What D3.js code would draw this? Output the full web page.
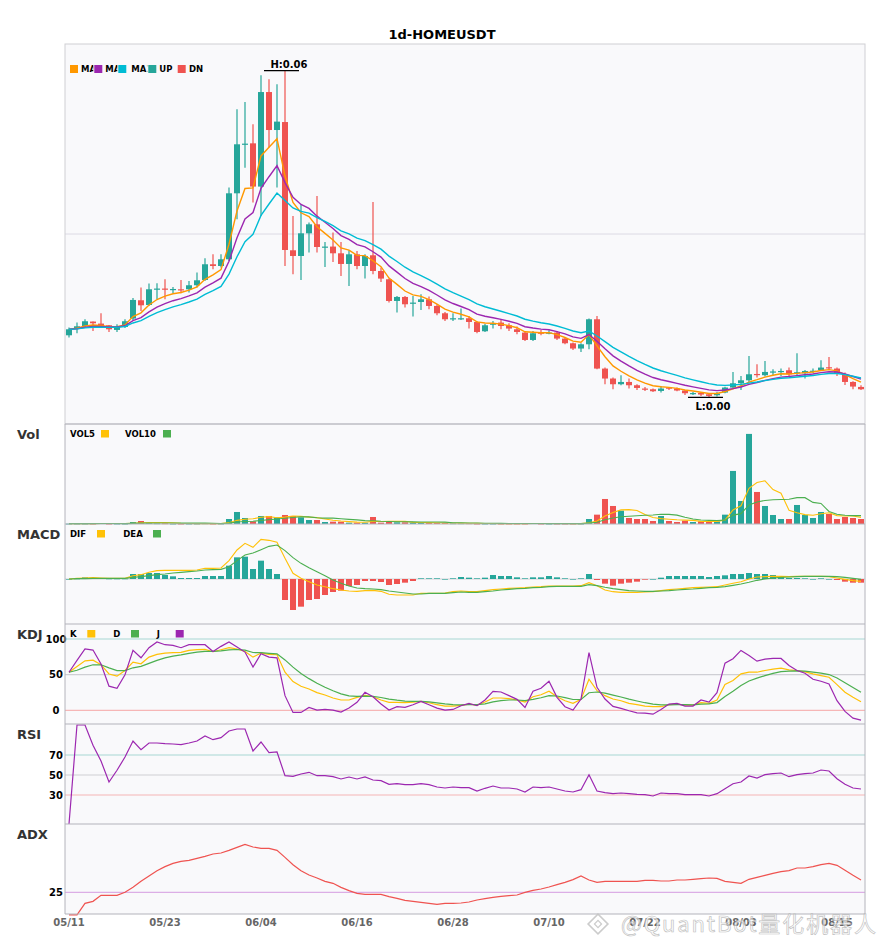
<!DOCTYPE html>
<html>
<head>
<meta charset="utf-8">
<script src="https://cdn.jsdelivr.net/npm/d3@7"></script>
<style>
  body { margin: 0; background: #fff; }
  svg { display: block; font-family: "DejaVu Sans", sans-serif; }
</style>
</head>
<body>
<svg id="chart"></svg>
<script>
// Daily candles, prices in milli-USDT (x 0.001)
const priceUnit = 0.001;
const firstDay = new Date(2025, 4, 11);
const tickLabels = ["05/11", "05/23", "06/04", "06/16", "06/28", "07/10", "07/22", "08/03", "08/15"];

const openP = [
  12.33, 13.45, 13.88, 14.62, 14.28, 14.0, 13.22, 13.72, 15.12, 18.17,
  17.38, 20.05, 20.12, 19.95, 20.0, 20.0, 20.67, 21.55, 24.17, 23.88,
  25.0, 36.0, 44.22, 44.33, 37.12, 52.88, 46.55, 47.88, 26.5, 25.55,
  29.33, 30.83, 27.05, 27.12, 26.0, 24.22, 25.83, 23.88, 25.67, 23.05,
  21.67, 18.05, 18.72, 17.67, 17.88, 18.33, 17.22, 16.0, 15.12, 15.12,
  15.17, 14.55, 13.0, 14.22, 14.45, 14.0, 13.33, 12.78, 11.55, 12.78,
  12.72, 12.78, 11.78, 11.0, 10.12, 10.83, 15.0, 6.78, 5.12, 4.17,
  4.55, 4.0, 3.45, 3.33, 3.05, 3.62, 3.45, 3.12, 2.63, 2.72,
  2.5, 2.33, 2.78, 3.62, 4.33, 4.83, 5.88, 5.67, 6.25, 6.33,
  6.5, 6.0, 6.0, 6.37, 6.5, 7.0, 6.78, 5.83, 4.55, 3.72
];
const highP = [
  13.62, 14.45, 15.0, 14.62, 16.0, 14.05, 14.17, 15.0, 18.55, 20.28,
  20.95, 21.0, 21.67, 20.38, 21.55, 21.38, 22.78, 25.17, 25.83, 25.83,
  36.95, 50.0, 51.22, 47.5, 55.67, 55.0, 54.17, 56.38, 32.22, 34.17,
  31.12, 35.55, 27.88, 29.45, 27.88, 26.5, 26.38, 25.83, 34.55, 23.62,
  21.78, 18.88, 18.88, 18.88, 19.17, 18.78, 17.5, 16.22, 16.0, 16.78,
  15.55, 14.72, 14.22, 14.72, 15.0, 14.33, 13.78, 12.88, 13.05, 13.22,
  13.17, 13.05, 11.95, 11.12, 11.0, 15.12, 15.55, 6.95, 5.28, 5.67,
  5.12, 4.17, 3.72, 3.45, 3.88, 3.72, 3.62, 3.22, 2.88, 2.88,
  2.62, 2.88, 3.75, 6.22, 5.55, 8.88, 7.5, 8.05, 6.67, 6.78,
  6.95, 9.33, 6.55, 6.78, 8.17, 8.72, 6.95, 6.12, 4.67, 4.0
];
const lowP = [
  11.95, 12.67, 13.62, 13.05, 13.62, 12.88, 12.88, 13.55, 14.88, 16.38,
  17.22, 18.33, 18.33, 19.33, 19.33, 19.45, 20.28, 21.38, 23.33, 23.62,
  24.72, 31.67, 40.28, 34.45, 32.22, 43.62, 36.95, 23.88, 22.5, 21.55,
  26.12, 26.12, 23.72, 24.55, 22.22, 20.55, 23.33, 21.78, 22.5, 21.22,
  17.78, 16.12, 16.95, 15.45, 16.55, 16.67, 15.67, 14.72, 14.72, 14.88,
  13.45, 12.67, 12.88, 13.45, 13.33, 13.05, 12.5, 11.38, 11.38, 12.33,
  12.5, 11.55, 10.83, 9.88, 9.55, 10.0, 6.67, 4.17, 3.33, 4.0,
  3.45, 3.22, 3.05, 2.88, 2.78, 3.22, 3.0, 2.38, 2.38, 2.22,
  2.05, 2.12, 2.67, 3.45, 3.22, 4.45, 5.28, 5.45, 5.67, 5.55,
  5.45, 5.67, 5.12, 6.0, 6.38, 6.55, 5.55, 4.05, 3.33, 3.22
];
const closeP = [
  13.33, 13.83, 14.67, 14.33, 13.88, 13.33, 13.72, 14.67, 18.22, 17.33,
  20.0, 20.12, 20.0, 20.05, 19.88, 20.67, 21.5, 24.17, 23.88, 25.0,
  36.0, 44.17, 44.28, 37.12, 52.88, 46.55, 47.95, 26.55, 25.55, 29.33,
  30.83, 27.05, 27.12, 26.0, 24.22, 25.83, 23.88, 25.55, 23.05, 21.78,
  18.05, 18.72, 17.5, 17.78, 18.33, 17.22, 16.0, 15.0, 15.17, 15.17,
  14.55, 12.88, 14.0, 14.28, 13.88, 13.45, 12.88, 11.55, 12.67, 12.62,
  12.78, 11.78, 11.0, 10.12, 10.83, 15.0, 6.78, 5.12, 4.17, 4.55,
  4.0, 3.55, 3.33, 3.0, 3.45, 3.45, 3.12, 2.67, 2.70, 2.45,
  2.22, 2.62, 3.62, 4.33, 4.83, 5.83, 5.72, 6.22, 6.30, 6.38,
  5.83, 6.17, 6.38, 6.42, 6.95, 6.88, 6.0, 4.55, 3.78, 3.33
];
// volume, millions
const volume = [
  0.01, 0.01, 0.01, 0.01, 0.03, 0.01, 0.01, 0.01, 0.06, 0.09,
  0.03, 0.02, 0.02, 0.01, 0.01, 0.01, 0.01, 0.02, 0.01, 0.01,
  0.15, 0.36, 0.18, 0.08, 0.24, 0.24, 0.20, 0.27, 0.24, 0.20,
  0.12, 0.12, 0.06, 0.07, 0.07, 0.04, 0.04, 0.04, 0.21, 0.04,
  0.06, 0.05, 0.05, 0.04, 0.03, 0.03, 0.03, 0.03, 0.02, 0.02,
  0.02, 0.01, 0.01, 0.01, 0.01, 0.01, 0.01, 0.01, 0.03, 0.01,
  0.01, 0.01, 0.01, 0.01, 0.01, 0.15, 0.28, 0.75, 0.54, 0.40,
  0.18, 0.15, 0.15, 0.09, 0.24, 0.09, 0.06, 0.10, 0.06, 0.08,
  0.08, 0.08, 0.28, 1.59, 0.69, 2.70, 0.96, 0.54, 0.27, 0.15,
  0.15, 0.57, 0.27, 0.18, 0.36, 0.30, 0.15, 0.21, 0.18, 0.15
];
// MACD, milli-USDT
const macdDif = [
  0, 0.2, 0.3, 0.4, 0.3, 0.2, 0.2, 0.2, 1.0, 1.3,
  2.0, 2.5, 2.6, 2.6, 2.6, 2.6, 2.7, 3.2, 3.2, 3.3,
  5.5, 8.7, 10.7, 9.5, 11.9, 11.6, 11.0, 6.2, 1.7, 0.2,
  -0.8, -1.8, -2.3, -2.9, -3.3, -3.6, -3.7, -3.5, -3.4, -3.7,
  -4.6, -4.8, -4.8, -4.8, -4.3, -4.3, -4.3, -4.2, -3.8, -3.6,
  -3.8, -3.8, -3.5, -3.2, -3.0, -2.8, -2.7, -2.6, -2.4, -2.3,
  -2.1, -2.1, -2.1, -2.1, -2.0, -1.1, -2.0, -3.3, -3.8, -4.0,
  -4.0, -4.0, -3.9, -3.8, -3.5, -3.2, -3.0, -2.8, -2.6, -2.5,
  -2.4, -2.3, -1.8, -1.3, -0.8, 0, 0.6, 0.7, 0.8, 0.8,
  0.7, 0.8, 0.8, 0.8, 0.8, 0.7, 0.3, -0.1, -0.5, -0.7
];
const macdDea = [
  0, 0.1, 0.1, 0.2, 0.2, 0.2, 0.2, 0.2, 0.5, 0.7,
  1.0, 1.3, 1.5, 1.8, 2.0, 2.2, 2.4, 2.7, 2.8, 2.9,
  3.7, 5.5, 7.2, 7.8, 8.8, 9.8, 10.2, 8.5, 6.4, 4.7,
  3.4, 2.2, 1.0, -0.3, -1.3, -2.1, -2.7, -2.9, -3.0, -3.2,
  -3.6, -3.9, -4.2, -4.5, -4.5, -4.3, -4.3, -4.3, -4.1, -3.9,
  -4.0, -4.0, -3.8, -3.6, -3.3, -3.1, -2.9, -2.8, -2.6, -2.5,
  -2.3, -2.2, -2.2, -2.2, -2.2, -1.7, -2.0, -2.5, -2.9, -3.2,
  -3.5, -3.6, -3.7, -3.7, -3.6, -3.5, -3.3, -3.1, -3.0, -2.8,
  -2.6, -2.5, -2.3, -1.9, -1.5, -1.0, -0.4, 0, 0.3, 0.5,
  0.6, 0.7, 0.8, 0.8, 0.8, 0.8, 0.7, 0.5, 0.2, -0.1
];
const macdHist = [
  0, 0.1, 0.5, 0.2, 0.2, 0.1, 0.1, 0.1, 1.5, 1.5,
  1.8, 1.8, 1.2, 0.8, 0.3, 0.3, 0.3, 0.9, 0.9, 0.9,
  4.0, 6.5, 6.7, 3.0, 5.5, 3.0, 1.5, -6.3, -9.3, -8.3,
  -6.3, -6.0, -4.8, -3.9, -3.5, -2.1, -1.8, -0.6, -0.6, -0.9,
  -1.8, -1.5, -1.1, -0.6, 0.2, 0.2, 0.2, 0, 0.2, 0.6,
  0.4, 0.2, 0.4, 1.2, 0.9, 0.9, 0.5, 0.2, 0.5, 0.5,
  0.9, 0.5, 0.2, 0, 0.2, 1.5, -0.3, -1.4, -2.0, -1.4,
  -1.1, -0.8, -0.2, 0, 0.4, 0.9, 0.9, 0.9, 0.9, 0.9,
  0.6, 0.9, 1.1, 1.5, 1.5, 1.8, 1.5, 1.5, 1.2, 0.6,
  0.3, 0.3, 0.2, 0, 0.2, 0, -0.3, -0.8, -1.1, -1.1
];
const kdjK = [
  53.5, 61.5, 69.5, 70.4, 64, 51, 48, 56, 67.6, 65.3,
  74.6, 78.4, 80.3, 80.8, 81.2, 84, 85, 85.4, 82.2, 85,
  87.8, 86, 82.6, 74.6, 80.3, 78.4, 78, 53.5, 40.4, 33.8,
  30, 24.9, 21.6, 17.4, 14.6, 14.6, 18.3, 21.1, 19.2, 14.6,
  11.3, 11.3, 10.8, 11.7, 12.7, 10.8, 8, 6.1, 6.1, 7,
  8.9, 7.5, 11.7, 17.4, 17.4, 16.4, 14.6, 11.7, 19.2, 22,
  26.8, 19.2, 13.6, 9.9, 15.5, 43.7, 27.7, 20.7, 16, 13.6,
  9.9, 8, 6.1, 5.2, 5.2, 8, 8.9, 7.5, 7.5, 10.8,
  9.9, 14.6, 36.2, 41.8, 51.2, 53.5, 53.5, 55.9, 57.7, 59.2,
  56.8, 55.9, 54, 51.2, 48.8, 46.5, 36.2, 25.4, 18.3, 12.2
];
const kdjD = [
  53.5, 56.2, 60.6, 63.9, 63.9, 59.6, 55.7, 55.8, 59.7, 61.6,
  65.9, 70.1, 73.5, 75.9, 77.7, 79.8, 81.5, 82.8, 82.6, 83.4,
  84.9, 85.3, 84.4, 81.1, 80.8, 80, 79.3, 70.7, 60.6, 51.7,
  44.5, 38, 32.5, 27.5, 23.2, 20.3, 19.6, 20.1, 19.8, 18.1,
  15.8, 14.3, 13.1, 12.6, 12.6, 12, 10.7, 9.2, 8.2, 7.8,
  8.2, 8, 9.2, 11.9, 13.7, 14.6, 14.6, 13.6, 15.5, 17.7,
  20.7, 20.2, 18, 15.3, 15.4, 24.8, 25.8, 24.1, 21.4, 18.8,
  15.8, 13.2, 10.8, 8.9, 7.7, 7.8, 8.2, 8, 7.8, 8.8,
  9.2, 11, 19.4, 26.9, 35, 41.2, 45.3, 48.8, 51.8, 54.3,
  55.1, 55.4, 54.9, 53.7, 52.1, 50.2, 45.5, 38.8, 32, 25.4
];
const kdjJ = [
  53.5, 70, 86, 84.5, 65, 34, 31, 50, 84, 73.7,
  87.8, 95.8, 92, 91, 87.8, 92, 92, 92, 82.6, 89.7,
  95.8, 88.7, 81.7, 60.6, 79.3, 74.6, 73.7, 20.7, -2.8, -2.8,
  4.2, 0.5, 1.4, 0.5, -2.3, 3.3, 11.3, 25.4, 19.2, 9,
  0.5, 5.2, 4.2, 8, 12.7, 8, 3.3, 0.5, 1.4, 6.6,
  9.9, 6.6, 14.6, 26.8, 25.8, 20.7, 15.5, 4.2, 26.8, 31,
  40.8, 18.3, 5.2, 0.5, 16, 80.8, 32.4, 16, 5.6, 2.8,
  -0.5, -3.3, -3.8, -5.2, 1.4, 8.9, 9.9, 6.1, 6.1, 14.6,
  11.7, 24.9, 66.2, 72.3, 84, 77, 69, 71.8, 72.8, 72.8,
  62.9, 55.9, 52.1, 43.7, 40.8, 37, 13.6, -1.4, -10.8, -13.6
];
const rsi = [
  1, 100, 100, 79.7, 64, 43, 54.7, 68, 84, 75.3,
  82, 82, 81.3, 81, 80.3, 82, 84, 89, 85.3, 87.3,
  94, 96, 96, 74, 83, 72.3, 73, 49.3, 48.7, 51,
  52.7, 49.3, 49.3, 48.3, 46, 48, 46, 48, 45, 44.3,
  40.7, 41.3, 40.3, 40.3, 41.3, 40.3, 38, 37, 38, 37.3,
  37.3, 34, 36.7, 39, 37, 37, 36, 33, 38, 37.3,
  38, 36, 34, 33, 35.3, 50.3, 34, 32.3, 31.3, 32,
  31.3, 30.7, 30.3, 29, 32, 31.3, 31.3, 30.3, 30.3, 30.3,
  29, 31.3, 36.3, 41.3, 43, 49, 47, 50.3, 51.3, 52,
  48.3, 50.3, 51.3, 52, 55, 54, 46.3, 40.7, 37, 36
];
const adx = [
  11.5, 11.5, 18.4, 19.6, 23.2, 23.2, 23.2, 25, 28, 31.6,
  34.8, 38, 40.4, 42.4, 43.6, 44.2, 45.4, 46.6, 48, 48.6,
  50.2, 52, 53.8, 52.2, 51.4, 51.4, 50.2, 46, 41.6, 38,
  35.4, 33.6, 31.6, 30.4, 28, 26, 24.4, 23.8, 23.8, 23.8,
  22.4, 21.4, 20.2, 19.6, 19, 18.4, 17.8, 18.4, 18.4, 18.6,
  19.2, 20.4, 21.2, 22, 22.6, 23, 23.4, 25, 26.2, 27,
  28.2, 29.6, 31, 32.6, 34.8, 32.4, 31, 31.6, 31.6, 31.6,
  31.6, 31.6, 32.2, 32.2, 31.8, 31.8, 32.4, 32.4, 32.8, 33.2,
  33.6, 33.4, 31.6, 31, 30.4, 32.8, 34, 35.2, 36.4, 37.4,
  38, 39.6, 39.6, 40.4, 41.6, 42.4, 41.2, 38.2, 35.2, 32.4
];

const n = closeP.length;
const fmt = d3.timeFormat("%m/%d");
const dates = d3.timeDay.range(firstDay, d3.timeDay.offset(firstDay, n)).map(fmt);

// colours
const upC = "#26a69a", dnC = "#ef5350";
const bg = "#f9f9fb", frame = "#b4b4bc";

let width = 885, height = 950;
let left = 65, right = 865;
// panel tops / bottoms
const P = {
  main: [44, 424], vol: [424, 524], macd: [524, 624],
  kdj: [624, 724], rsi: [724, 824], adx: [824, 914]
};

let svg = d3.select("#chart")
  .attr("width", width)
  .attr("height", height)
  .style("background", "#fff");

// backgrounds
Object.values(P).forEach(p => {
  svg.append("rect").attr("x", left).attr("y", p[0])
    .attr("width", right - left).attr("height", p[1] - p[0]).attr("fill", bg);
});

let x = d3.scaleBand()
  .domain(dates)
  .range([left, right])
  .paddingInner(0.25)
  .paddingOuter(0.125);
const cx = i => x(dates[i]) + x.bandwidth() / 2;
const isUp = i => closeP[i] >= openP[i];

// moving averages
function sma(arr, p) {
  return arr.map((d, i) => d3.mean(arr.slice(Math.max(0, i - p + 1), i + 1)));
}
function ema(arr, p) {
  const k = 2 / (p + 1), out = [];
  arr.forEach((d, i) => out.push(i ? out[i - 1] + k * (d - out[i - 1]) : d));
  return out;
}

// ---------- main candle panel ----------
const lo = d3.min(lowP), hi = d3.max(highP);
const pad = (hi - lo) * 0.083;
let y = d3.scaleLinear().domain([lo - pad, hi + pad]).range([P.main[1], P.main[0]]);

svg.append("line")
  .attr("x1", left).attr("x2", right)
  .attr("y1", y((lo + hi) / 2)).attr("y2", y((lo + hi) / 2))
  .attr("stroke", "#dcdae4").attr("stroke-width", 1);

let candles = svg.append("g").selectAll("g").data(d3.range(n)).enter().append("g");
candles.append("line")
  .attr("x1", cx).attr("x2", cx)
  .attr("y1", i => y(highP[i])).attr("y2", i => y(lowP[i]))
  .attr("stroke", i => isUp(i) ? upC : dnC).attr("stroke-width", 1.2);
candles.append("rect")
  .attr("x", i => x(dates[i]))
  .attr("width", x.bandwidth())
  .attr("y", i => y(Math.max(openP[i], closeP[i])))
  .attr("height", i => Math.max(1.2, Math.abs(y(openP[i]) - y(closeP[i]))))
  .attr("fill", i => isUp(i) ? upC : dnC);

// exponential averages of the close
const maDefs = [
  { name: "MA5", p: 5, color: "#ff9800" },
  { name: "MA9", p: 9, color: "#9c27b0" },
  { name: "MA14", p: 14, color: "#00bcd4" }
];
maDefs.forEach(m => {
  const vals = ema(closeP, m.p);
  svg.append("path")
    .datum(vals)
    .attr("fill", "none").attr("stroke", m.color).attr("stroke-width", 1.4)
    .attr("d", d3.line().x((d, i) => cx(i)).y(d => y(d)));
});

// high / low markers
const hiIdx = d3.maxIndex(highP), loIdx = d3.minIndex(lowP);
svg.append("line")
  .attr("x1", cx(hiIdx) - 21).attr("x2", cx(hiIdx) + 14)
  .attr("y1", y(highP[hiIdx]) - 0.5).attr("y2", y(highP[hiIdx]) - 0.5)
  .attr("stroke", "#000").attr("stroke-width", 1.2);
svg.append("text")
  .attr("x", cx(hiIdx) + 4).attr("y", y(highP[hiIdx]) - 3.5)
  .attr("text-anchor", "middle").attr("font-size", 10).attr("font-weight", "bold")
  .text("H:" + (highP[hiIdx] * priceUnit).toFixed(2));
svg.append("line")
  .attr("x1", cx(loIdx) - 21).attr("x2", cx(loIdx) + 14)
  .attr("y1", y(lowP[loIdx]) + 0.5).attr("y2", y(lowP[loIdx]) + 0.5)
  .attr("stroke", "#000").attr("stroke-width", 1.2);
svg.append("text")
  .attr("x", cx(loIdx) + 4).attr("y", y(lowP[loIdx]) + 13)
  .attr("text-anchor", "middle").attr("font-size", 10).attr("font-weight", "bold")
  .text("L:" + (lowP[loIdx] * priceUnit).toFixed(2));

// main legend (items overlap like the original)
const mainLegend = [
  { sx: 70, tx: 81, label: "MA5", color: "#ff9800" },
  { sx: 94.3, tx: 105.3, label: "MA9", color: "#9c27b0" },
  { sx: 118.3, tx: 131.3, label: "MA14", color: "#00bcd4" },
  { sx: 148.3, tx: 159.3, label: "UP", color: upC },
  { sx: 177.7, tx: 189, label: "DN", color: dnC }
];
mainLegend.forEach(l => {
  svg.append("rect").attr("x", l.sx - 1).attr("y", 63).attr("width", l.tx - l.sx + 1).attr("height", 11).attr("fill", bg);
  svg.append("rect").attr("x", l.sx).attr("y", 65).attr("width", 8).attr("height", 8).attr("fill", l.color);
  svg.append("text").attr("x", l.tx).attr("y", 72.3)
    .attr("font-size", 8.5).attr("font-weight", "bold").text(l.label);
});

// ---------- volume panel ----------
let yv = d3.scaleLinear().domain([0, d3.max(volume) * 1.11]).range([P.vol[1], P.vol[0]]);
svg.append("g").selectAll("rect").data(d3.range(n)).enter().append("rect")
  .attr("x", i => x(dates[i])).attr("width", x.bandwidth())
  .attr("y", i => yv(volume[i]))
  .attr("height", i => Math.max(0.8, yv(0) - yv(volume[i])))
  .attr("fill", i => isUp(i) ? upC : dnC);
[[sma(volume, 5), "#ffc107"], [sma(volume, 10), "#4caf50"]].forEach(s => {
  svg.append("path").datum(s[0])
    .attr("fill", "none").attr("stroke", s[1]).attr("stroke-width", 1.1)
    .attr("d", d3.line().x((d, i) => cx(i)).y(d => yv(d)));
});

// ---------- MACD panel ----------
let ym = d3.scaleLinear().domain([-13.5, 16.5]).range([P.macd[1], P.macd[0]]);
svg.append("line").attr("x1", left).attr("x2", right)
  .attr("y1", ym(0)).attr("y2", ym(0)).attr("stroke", "#d0d0d4");
svg.append("g").selectAll("rect").data(d3.range(n)).enter().append("rect")
  .attr("x", i => x(dates[i])).attr("width", x.bandwidth())
  .attr("y", i => Math.min(ym(0), ym(macdHist[i])))
  .attr("height", i => Math.max(0.6, Math.abs(ym(macdHist[i]) - ym(0))))
  .attr("fill", i => macdHist[i] >= 0 ? upC : dnC);
[[macdDif, "#ffc107"], [macdDea, "#4caf50"]].forEach(s => {
  svg.append("path").datum(s[0])
    .attr("fill", "none").attr("stroke", s[1]).attr("stroke-width", 1.1)
    .attr("d", d3.line().x((d, i) => cx(i)).y(d => ym(d)));
});

// ---------- KDJ / RSI / ADX panels ----------
let yk = d3.scaleLinear().domain([-19, 121]).range([P.kdj[1], P.kdj[0]]);
let yr = d3.scaleLinear().domain([1, 101]).range([P.rsi[1], P.rsi[0]]);
let ya = d3.scaleLinear().domain([12, 66]).range([P.adx[1], P.adx[0]]);

const refLines = [
  [yk, 100, "#a8d8d4"], [yk, 50, "#cfcfd4"], [yk, 0, "#f6b6b6"],
  [yr, 70, "#a8d8d4"], [yr, 50, "#cfcfd4"], [yr, 30, "#f6b6b6"],
  [ya, 25, "#dcaee6"]
];
refLines.forEach(r => {
  svg.append("line").attr("x1", left).attr("x2", right)
    .attr("y1", r[0](r[1])).attr("y2", r[0](r[1]))
    .attr("stroke", r[2]).attr("stroke-width", 1.2);
  svg.append("text").attr("x", 56).attr("y", r[0](r[1]) + 3.6)
    .attr("text-anchor", "middle").attr("font-size", 10).attr("font-weight", "bold")
    .text(r[1]);
});

const lineSeries = [
  [kdjK, yk, "#ffc107"], [kdjD, yk, "#4caf50"], [kdjJ, yk, "#9c27b0"],
  [rsi, yr, "#9c27b0"], [adx, ya, "#ef5350"]
];
lineSeries.forEach(s => {
  svg.append("path").datum(s[0])
    .attr("fill", "none").attr("stroke", s[2]).attr("stroke-width", 1.2)
    .attr("d", d3.line().x((d, i) => cx(i)).y(d => s[1](d)));
});

// sub-panel legends
const subLegends = [
  { y: 430, items: [[70, "VOL5", 101, "#ffc107"], [125, "VOL10", 163, "#4caf50"]] },
  { y: 530, items: [[70, "DIF", 97, "#ffc107"], [123.3, "DEA", 153, "#4caf50"]] },
  { y: 630, items: [[70, "K", 87.3, "#ffc107"], [113.3, "D", 131, "#4caf50"], [156.7, "J", 175.7, "#9c27b0"]] }
];
subLegends.forEach(g => {
  g.items.forEach(it => {
    svg.append("text").attr("x", it[0]).attr("y", g.y + 6.7)
      .attr("font-size", 8.5).attr("font-weight", "bold").text(it[1]);
    svg.append("rect").attr("x", it[2]).attr("y", g.y).attr("width", 8).attr("height", 7.5).attr("fill", it[3]);
  });
});

// frames
svg.append("rect").attr("x", left).attr("y", P.main[0])
  .attr("width", right - left).attr("height", P.main[1] - P.main[0])
  .attr("fill", "none").attr("stroke", "#cfcfd4");
[P.vol[0], P.macd[0], P.kdj[0], P.rsi[0], P.adx[0], P.adx[1]].forEach(v => {
  svg.append("line").attr("x1", left).attr("x2", right).attr("y1", v).attr("y2", v)
    .attr("stroke", frame).attr("stroke-width", 1.2);
});
[left, right].forEach(v => {
  svg.append("line").attr("x1", v).attr("x2", v).attr("y1", P.vol[0]).attr("y2", P.adx[1])
    .attr("stroke", frame).attr("stroke-width", 1);
});

// panel names
[["Vol", 439], ["MACD", 539], ["KDJ", 639], ["RSI", 739], ["ADX", 839]].forEach(t => {
  svg.append("text").attr("x", 17).attr("y", t[1])
    .attr("font-size", 13).attr("font-weight", "bold").attr("fill", "#333").text(t[0]);
});

// x-axis date labels
svg.append("g").selectAll("text").data(tickLabels).enter().append("text")
  .attr("x", d => x(d) + x.bandwidth() / 2).attr("y", 926)
  .attr("text-anchor", "middle").attr("font-size", 10).attr("font-weight", "bold")
  .attr("fill", "#666").text(d => d);

// title
svg.append("text").attr("x", 442).attr("y", 39).attr("text-anchor", "middle")
  .attr("font-size", 13).attr("font-weight", "bold").text("1d-HOMEUSDT");

// watermark (logo + handle), drawn over the axis like the original
let wm = svg.append("g").attr("opacity", 0.85);
wm.append("rect").attr("x", 591).attr("y", 917).attr("width", 14).attr("height", 14)
  .attr("transform", "rotate(45 598 924)")
  .attr("fill", "none").attr("stroke", "#c4c4c4").attr("stroke-width", 1.6);
wm.append("rect").attr("x", 595.5).attr("y", 921.5).attr("width", 5).attr("height", 5)
  .attr("transform", "rotate(45 598 924)")
  .attr("fill", "#fff").attr("stroke", "#c4c4c4").attr("stroke-width", 1.2);
wm.append("text").attr("x", 621).attr("y", 932)
  .attr("font-family", "'Noto Sans CJK SC', 'Noto Sans', sans-serif")
  .attr("font-size", 22).attr("textLength", 255).attr("lengthAdjust", "spacing")
  .attr("fill", "#ffffff").attr("fill-opacity", 0.7)
  .attr("stroke", "#b8b8b8").attr("stroke-width", 0.7)
  .text("@QuantBot量化机器人");
</script>
</body>
</html>
